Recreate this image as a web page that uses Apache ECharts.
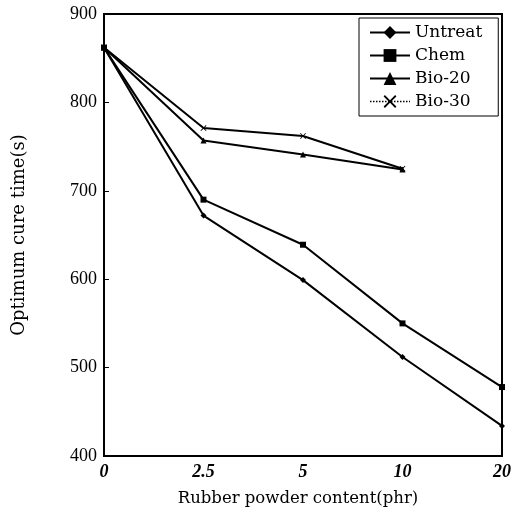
<!DOCTYPE html>
<html>
<head>
<meta charset="utf-8">
<script src="https://cdn.jsdelivr.net/npm/echarts@6/dist/echarts.min.js"></script>
<style>
html,body{margin:0;padding:0;background:#fff;}
#chart{width:514px;height:518px;}
</style>
</head>
<body>
<div id="chart"></div>
<script>
// rubber powder content (phr) -- evenly spaced categories
var contents = ['0', '2.5', '5', '10', '20'];
var untreat = [862, 672, 599, 512, 434];
var chem = [862, 690, 639, 550, 478];
var bio20 = [862, 757, 741, 724, '-'];
var bio30 = [862, 771, 762, 725, '-'];

var crossPath = 'path://M0,1 L1,0 L5,4 L9,0 L10,1 L6,5 L10,9 L9,10 L5,6 L1,10 L0,9 L4,5 Z';
var serif = '"Liberation Serif","DejaVu Serif",serif';
var wide = '"DejaVu Serif","Liberation Serif",serif';

var mychart = echarts.init(document.getElementById('chart'));

function mkSeries(name, data, symbol, size){
	return {
		name : name,
		type : 'line',
		data : data,
		symbol : symbol,
		symbolSize : size,
		showSymbol : true,
		lineStyle : { color:'#000', width:2 },
		itemStyle : { color:'#000' },
		emphasis : { disabled:true },
		animation : false
	};
}

var option = {
	backgroundColor : '#fff',
	textStyle : { fontFamily : serif },
	grid : {
		left : 104, right : 10, top : 14, bottom : 62,
		show : true,
		borderColor : '#000',
		borderWidth : 2
	},
	legend : {
		orient : 'vertical',
		left : 359,
		top : 18,
		padding : [6, 16, 6, 10],
		itemGap : 6,
		itemWidth : 40,
		itemHeight : 16,
		borderColor : '#000',
		borderWidth : 1,
		textStyle : { fontFamily:wide, fontSize:17, lineHeight:16, color:'#000' },
		data : [
			{name:'Untreat'},
			{name:'Chem'},
			{name:'Bio-20'},
			{name:'Bio-30', lineStyle:{type:'dotted', width:1.5}}
		]
	},
	xAxis : {
		type : 'category',
		boundaryGap : false,
		data : contents,
		name : 'Rubber powder content(phr)',
		nameLocation : 'middle',
		nameGap : 34,
		nameTextStyle : { fontFamily:wide, fontSize:16.5, color:'#000', padding:[0,10,0,0] },
		axisLine : { lineStyle:{ color:'#000', width:2 } },
		axisTick : { show:false },
		axisLabel : { fontFamily:serif, fontSize:18, fontStyle:'italic', fontWeight:'bold', color:'#000', margin:7 },
		splitLine : { show:false }
	},
	yAxis : {
		type : 'value',
		min : 400,
		max : 900,
		interval : 100,
		name : 'Optimum cure time(s)',
		nameLocation : 'middle',
		nameGap : 76,
		nameTextStyle : { fontFamily:wide, fontSize:18, color:'#000' },
		axisLine : { show:true, lineStyle:{ color:'#000', width:2 } },
		axisTick : { show:true, inside:true, length:5, lineStyle:{ color:'#000' } },
		axisLabel : { fontFamily:serif, fontSize:18, color:'#000', margin:7 },
		splitLine : { show:false }
	},
	series : [
		mkSeries('Untreat', untreat, 'diamond', 6),
		mkSeries('Chem', chem, 'rect', 6),
		mkSeries('Bio-20', bio20, 'triangle', 6),
		mkSeries('Bio-30', bio30, crossPath, 6)
	]
};
mychart.setOption(option, true);
</script>
</body>
</html>
